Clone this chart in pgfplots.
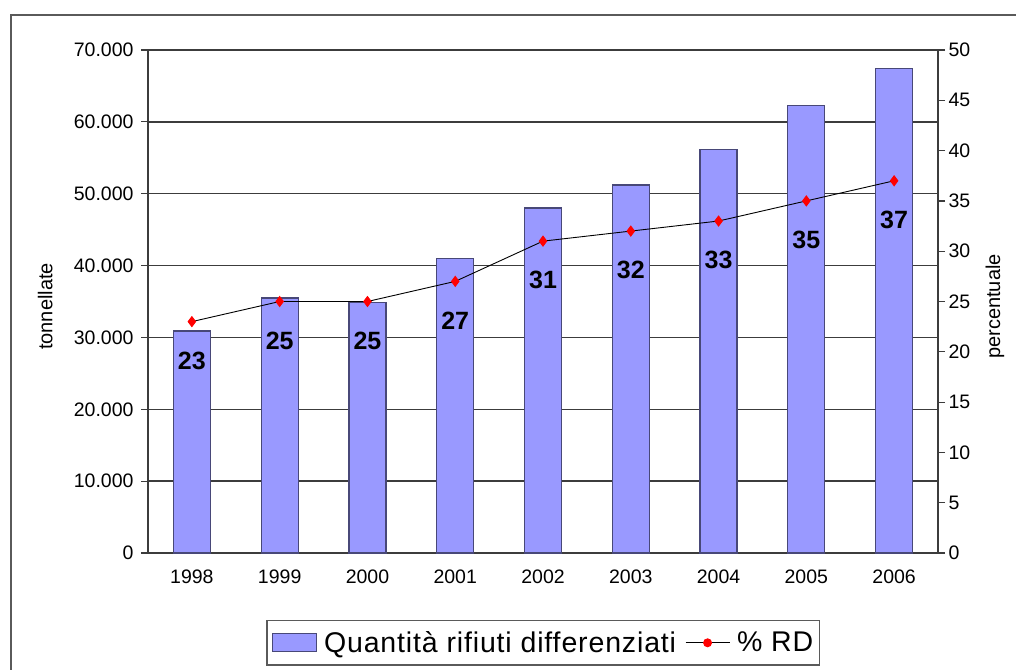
\documentclass[border=0pt]{standalone}
\usepackage{pgfplots}
\pgfplotsset{compat=1.18}
\usepackage{fontspec}
\setmainfont{Liberation Sans}
\newfontfamily\legendfont[LetterSpace=3]{Liberation Sans}
\definecolor{barfill}{RGB}{153,153,255}
\definecolor{baredge}{RGB}{72,72,120}
\definecolor{framegray}{RGB}{90,90,90}
\definecolor{gridgray}{RGB}{60,60,60}

\pgfplotstableread{
x year tonn
0 1998 30900
1 1999 35500
2 2000 34900
3 2001 41000
4 2002 48000
5 2003 51200
6 2004 56100
7 2005 62300
8 2006 67400
}\tonnellate

\pgfplotstableread{
x perc
0 23
1 25
2 25
3 27
4 31
5 32
6 33
7 35
8 37
}\percentuale

\pgfplotsset{
  common/.style={
    at={(148pt,-553pt)}, anchor=south west,
    scale only axis, width=790pt, height=503pt,
    xmin=-0.5, xmax=8.5,
    tick align=outside,
    major tick length=7pt,
    tick style={line width=1.2pt, color=gridgray},
    axis line style={line width=1.6pt, color=gridgray},
    tick label style={font=\fontsize{19.5}{21}\selectfont},
    /pgf/number format/assume math mode=true,
  }
}

\begin{document}
\begin{tikzpicture}[x=1pt,y=1pt]
\useasboundingbox (0,0) rectangle (1016,-669);
\draw[line width=1.8pt, framegray] (11,-672) -- (11,-15) -- (1020,-15);

% tonnes collected separately (left axis)
\begin{axis}[common,
  axis x line*=bottom, axis y line*=left,
  ymin=0, ymax=70000,
  scaled y ticks=false,
  ytick={0,10000,...,70000},
  yticklabels={0,10.000,20.000,30.000,40.000,50.000,60.000,70.000},
  y tick label style={xshift=-4pt},
  ymajorgrids,
  grid style={line width=1.4pt, color=gridgray},
  xtick={0,...,8},
  xticklabels={1998,1999,2000,2001,2002,2003,2004,2005,2006},
  x tick label style={yshift=-6pt},
  xtick style={draw=none},
  extra x ticks={0.5,1.5,...,7.5},
  extra x tick labels={},
  extra x tick style={tick style={line width=1.2pt, color=gridgray, draw=gridgray}, major tick length=7pt},
  ylabel={tonnellate},
  ylabel style={at={(axis description cs:-0.130,0.49)}, anchor=center, rotate=0, font=\fontsize{20}{22}\selectfont},
  clip=false,
]
\addplot[ybar, bar width=37pt, fill=barfill, draw=baredge, line width=1.2pt] table[x=x, y=tonn] {\tonnellate};
\draw[line width=1.6pt, gridgray] (axis cs:-0.5,70000) -- (axis cs:8.5,70000);
\end{axis}

% share of separate collection (right axis)
\begin{axis}[common,
  axis x line=none, axis y line*=right,
  ymin=0, ymax=50,
  ytick={0,5,...,50},
  ylabel={percentuale},
  ylabel style={at={(axis description cs:1.072,0.49)}, anchor=center, rotate=0, font=\fontsize{20}{22}\selectfont},
  legend style={at={(axis description cs:0.5,-0.133)}, anchor=north,
    draw=framegray, line width=1.3pt, inner xsep=5pt, inner ysep=9pt,
    font=\legendfont\fontsize{28.5}{30}\selectfont, legend columns=2,
    /tikz/every odd column/.append style={column sep=6pt},
    /tikz/every even column/.append style={column sep=8pt},
    /tikz/every node/.append style={inner xsep=1pt}},
  legend cell align=left,
]
\addlegendimage{legend image code/.code={
  \draw[fill=barfill, draw=baredge, line width=1.2pt] (0pt,-9pt) rectangle (44pt,9pt);}}
\addlegendentry{Quantità rifiuti differenziati}
\addplot[black, line width=0.9pt, mark=diamond*, mark size=5pt,
  mark options={fill=red, draw=red},
  legend image code/.code={
    \draw[black, line width=0.9pt] (0pt,0pt) -- (44pt,0pt);
    \fill[red] (22pt,0pt) circle (4pt);},
  nodes near coords,
  every node near coord/.append style={anchor=center, yshift=-39pt,
    font=\fontsize{25}{27}\selectfont\bfseries, text=black},
] table[x=x, y=perc] {\percentuale};
\addlegendentry{\% RD}
\end{axis}
\end{tikzpicture}
\end{document}
